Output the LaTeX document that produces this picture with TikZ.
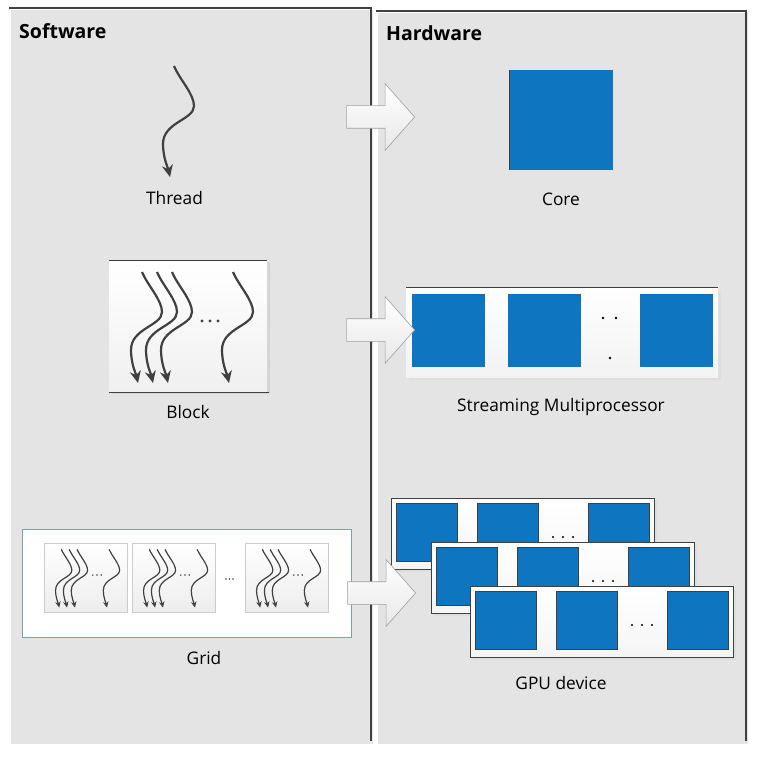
\documentclass[tikz,border=0pt]{standalone}
\usepackage{fontspec}
\setmainfont{Open Sans}
\usetikzlibrary{arrows.meta,shapes.arrows,shadows}

\definecolor{panelgray}{RGB}{228,228,228}
\definecolor{edgegray}{RGB}{64,64,64}
\definecolor{coreblue}{RGB}{14,117,192}
\definecolor{gridedge}{RGB}{127,157,185}

% one wavy thread, drawn from its top end
\newcommand\threadcurve{(0,0) .. controls (6,14) and (20,28) .. (20,40)
  .. controls (20,54) and (-11,56) .. (-11,78)
  .. controls (-11,92) and (-6,102) .. (-4,111)}

\tikzset{
  lbl/.style={font=\fontsize{17.3}{21}\selectfont, inner sep=0pt, anchor=base},
  heading/.style={font=\bfseries\fontsize{19.5}{23}\selectfont, inner sep=0pt, anchor=base west},
  threadline/.style={draw=edgegray, line width=2.2pt, -{Stealth[length=12pt,width=11pt]}},
  blockbox/.style={top color=white, bottom color=gray!12,
    drop shadow={shadow xshift=2.5pt, shadow yshift=-1.5pt, fill=gray!45}},
  blockedge/.style={draw=edgegray, line width=1pt},
  bigarrow/.style={single arrow, draw=gray!75, line width=0.6pt, top color=white, bottom color=gray!18,
    inner sep=11pt, minimum height=68pt, single arrow head extend=22pt,
    single arrow tip angle=97, anchor=tip},
  smfill/.style={top color=white, bottom color=gray!10,
    drop shadow={shadow xshift=3pt, shadow yshift=-3pt, fill=gray!30}},
  gpufill/.style={draw=edgegray, line width=0.9pt, top color=white, bottom color=gray!8,
    drop shadow={shadow xshift=3pt, shadow yshift=-3pt, fill=gray!30}},
  cpu/.style={fill=coreblue},
  thread/.pic={
    \draw[threadline] \threadcurve;
  },
  blockfig/.pic={
    \fill[blockbox] (0,0) rectangle (158,132);
    \draw[blockedge] (0,0) -- (158,0) (0,132) -- (160,132);
    \foreach \tx in {33,48,63,124}
      \draw[threadline, shift={(\tx,12)}] \threadcurve;
    \foreach \dx in {93,101,109}
      \fill[edgegray] (\dx,61) circle (1.6);
  },
  smbox/.pic={
    \fill[smfill] (0,0) rectangle (312,90);
    \draw[edgegray, line width=1pt] (0,0) -- (312,0);
    \foreach \sx in {6,102,234}
      \fill[cpu] (\sx,7) rectangle ++(73,73);
    \fill (197,31) circle (1.3) (210,31) circle (1.3) (204,71) circle (1.3);
  },
  gpubox/.pic={
    \path[gpufill] (0,0) rectangle (263,71);
    \foreach \sx in {5,86,197}
      \filldraw[cpu, draw=edgegray, line width=0.8pt] (\sx,5) rectangle ++(61,58);
    \foreach \dx in {162,172,182}
      \fill (\dx,39) circle (1.1);
  }
}

\begin{document}
\begin{tikzpicture}[x=1pt, y=-1pt]
  \useasboundingbox (0,0) rectangle (765,765);
  \fill[white] (0,0) rectangle (765,765);

  % panels
  \fill[panelgray] (11,10) rectangle (373,744);
  \draw[edgegray, line width=1.3pt] (9,8) -- (371,8) -- (371,741);
  \fill[panelgray] (378,13) rectangle (748,744);
  \draw[edgegray, line width=1.3pt] (376,11) -- (746,11) -- (746,741);

  \node[heading] (sw) at (19,39) {Software};
  \node[heading] (hw) at (386,41) {Hardware};

  % thread -> core
  \pic at (174,66) {thread};
  \node[lbl] (threadlbl) at (174.5,204) {Thread};
  \fill[cpu] (509,70) rectangle (613,170);
  \draw[edgegray, line width=0.6pt] (509,70) -- (509,170);
  \node[lbl] (corelbl) at (561,205) {Core};

  % block -> SM
  \pic at (109,260) {blockfig};
  \node[lbl] (blocklbl) at (188,418) {Block};
  \pic at (406,287) {smbox};
  \node[lbl] (smlbl) at (561,411) {Streaming Multiprocessor};

  % grid -> device
  \filldraw[fill=white, draw=gridedge, line width=1pt] (22,529) rectangle (351,637);
  \foreach \bx in {44,132,245}
    \pic[scale=0.525,
      threadline/.style={draw=edgegray, line width=1.2pt, -{Stealth[length=6pt,width=5.5pt]}},
      blockbox/.style={top color=white, bottom color=gray!14, draw=gray!40, line width=0.6pt},
      blockedge/.style={draw=none}] at (\bx,543) {blockfig};
  \foreach \dx in {226,229.5,233}
    \fill[edgegray] (\dx,579) circle (0.8);
  \node[lbl] (gridlbl) at (204,664) {Grid};

  \pic at (391,498) {gpubox};
  \pic at (431,542) {gpubox};
  \pic at (470,586) {gpubox};
  \node[lbl] (gpulbl) at (561,689) {GPU device};

  % mapping arrows
  \node[bigarrow] (map1) at (415,117) {};
  \node[bigarrow] (map2) at (415,330) {};
  \node[bigarrow] (map3) at (416,593) {};
\end{tikzpicture}
\end{document}
